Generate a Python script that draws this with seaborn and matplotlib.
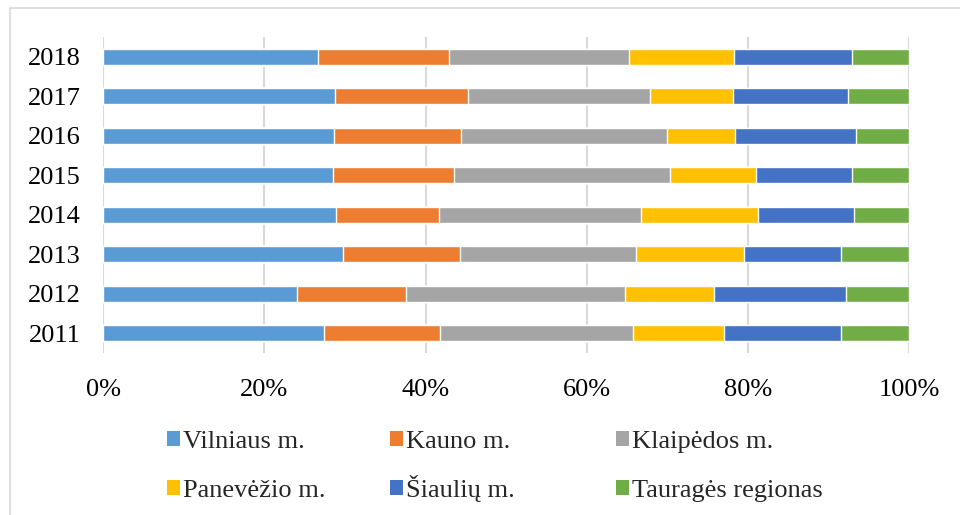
import numpy as np
import pandas as pd
import matplotlib
matplotlib.use("Agg")
import matplotlib.pyplot as plt
from matplotlib.patches import Patch, Rectangle
import seaborn as sns

# shares per region (%)
years = ["2011", "2012", "2013", "2014", "2015", "2016", "2017", "2018"]
regions = ["Vilniaus m.", "Kauno m.", "Klaipėdos m.",
           "Panevėžio m.", "Šiaulių m.", "Tauragės regionas"]
vilnius = [27.4, 24.1, 29.8, 28.9, 28.5, 28.6, 28.7, 26.6]
kaunas = [14.4, 13.5, 14.5, 12.7, 15.0, 15.8, 16.6, 16.3]
klaipeda = [23.9, 27.2, 21.8, 25.1, 26.8, 25.5, 22.5, 22.4]
panevezys = [11.3, 11.0, 13.4, 14.6, 10.7, 8.5, 10.3, 13.0]
siauliai = [14.6, 16.4, 12.0, 11.8, 11.9, 15.0, 14.3, 14.6]
taurage = [8.4, 7.8, 8.5, 6.9, 7.1, 6.6, 7.6, 7.1]
colors = ["#5B9BD5", "#ED7D31", "#A5A5A5", "#FFC000", "#4472C4", "#70AD47"]

df = pd.DataFrame([vilnius, kaunas, klaipeda, panevezys, siauliai, taurage],
                  index=regions, columns=years).T
df = df.div(df.sum(axis=1), axis=0) * 100
cum = df.cumsum(axis=1)
cum["Year"] = cum.index

sns.set_theme(style="white")
plt.rcParams["font.family"] = ["Liberation Serif", "DejaVu Serif"]

fig = plt.figure(figsize=(9.6, 5.15), dpi=100)
ax = fig.add_axes([0.1076, 0.3146, 0.8394, 0.6136])

# stacked bars: draw cumulative totals from the widest one down
order = years[::-1]
for reg, col in zip(regions[::-1], colors[::-1]):
    sns.barplot(data=cum, x=reg, y="Year", order=order, color=col,
                saturation=1, width=0.4, orient="h", ax=ax, zorder=3)

ax.set_xlim(0, 100)
ax.set_xticks([0, 20, 40, 60, 80, 100])
ax.set_xticklabels([f"{t}%" for t in range(0, 101, 20)])
ax.xaxis.grid(True, color="#D9D9D9", linewidth=1.5, zorder=0)
ax.set_axisbelow(True)
for s in ax.spines.values():
    s.set_visible(False)
ax.set_xlabel("")
ax.set_ylabel("")
ax.tick_params(axis="both", length=0, labelsize=19, colors="black")
ax.tick_params(axis="y", pad=16.5)
ax.tick_params(axis="x", pad=19)

# legend: Excel-style grid, 3 equal columns x 2 rows (one legend per entry
# so that baselines line up)
cols_x = [167, 390, 616]
rows_bottom = [453, 502]
for i, (reg, col) in enumerate(zip(regions, colors)):
    r, c = divmod(i, 3)
    fig.legend([Patch(facecolor=col, edgecolor="none")], [reg],
               loc="lower left",
               bbox_to_anchor=(cols_x[c] / 960, 1 - rows_bottom[r] / 515),
               frameon=False, fontsize=19, handlelength=0.5, handleheight=0.5,
               handletextpad=0.12, borderpad=0, borderaxespad=0)

# chart area frame
fig.patches.append(Rectangle((10 / 960, -0.1), 1.2, 1 - 8 / 515 + 0.1,
                             transform=fig.transFigure, fill=False,
                             edgecolor="#D9D9D9", linewidth=1.2))

fig.savefig("out.png", dpi=100)
